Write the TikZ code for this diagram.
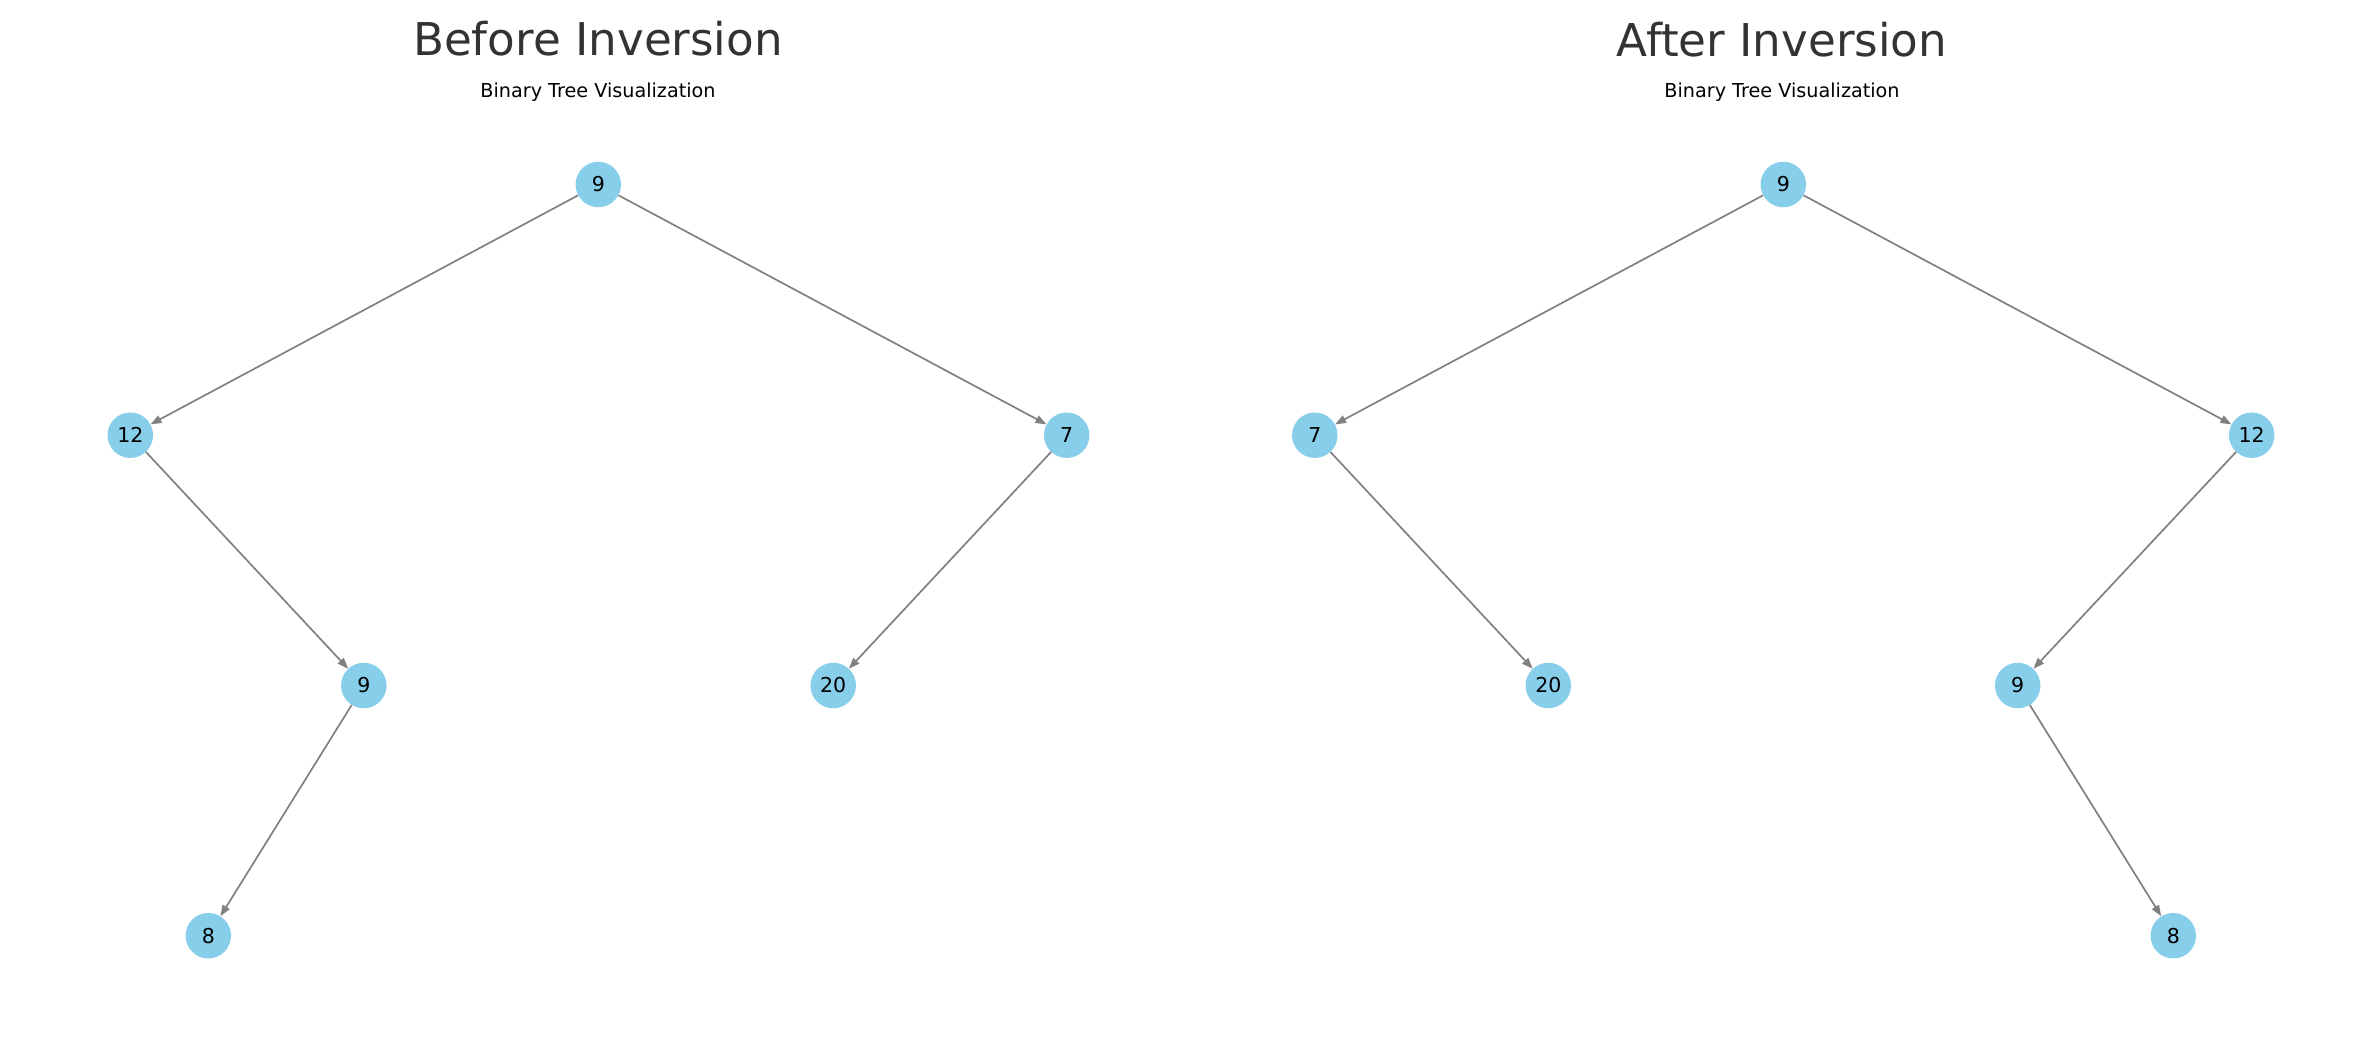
\documentclass[tikz,border=0pt]{standalone}
\usepackage{fontspec}
\setmainfont{DejaVu Sans}
\usetikzlibrary{arrows.meta}
\definecolor{skyblue}{RGB}{135,206,235}
\definecolor{edgegray}{RGB}{128,128,128}
\definecolor{titlegray}{RGB}{51,51,51}
\tikzset{
  treenode/.style={circle, fill=skyblue, draw=none, minimum size=45.5pt, inner sep=0pt,
    font=\fontsize{20.5}{24}\selectfont, text=black},
  treeedge/.style={draw=edgegray, line width=1.7pt, -{Triangle[length=11pt,width=8pt]}},
  titletext/.style={anchor=base, font=\fontsize{45.2}{55}\selectfont, text=titlegray, inner sep=0pt},
  subtext/.style={anchor=base, font=\fontsize{19.2}{23}\selectfont, text=black, inner sep=0pt}
}
\begin{document}
\begin{tikzpicture}[x=1pt,y=-1pt]
\useasboundingbox (0,0) rectangle (2379,1045);
% titles
\node[titletext] (t1) at (598,55) {Before Inversion};
\node[subtext] (s1) at (598,97) {Binary Tree Visualization};
\node[titletext] (t2) at (1782,56) {After Inversion};
\node[subtext] (s2) at (1782,97) {Binary Tree Visualization};
% left tree
\node[treenode] (a9) at (598.3,184.5) {9};
\node[treenode] (a12) at (130.3,435.2) {12};
\node[treenode] (a7) at (1066.7,435.2) {7};
\node[treenode] (a9b) at (363.8,685.5) {9};
\node[treenode] (a20) at (833.2,685.5) {20};
\node[treenode] (a8) at (208.3,935.7) {8};
\draw[treeedge] (a9) -- (a12);
\draw[treeedge] (a9) -- (a7);
\draw[treeedge] (a12) -- (a9b);
\draw[treeedge] (a7) -- (a20);
\draw[treeedge] (a9b) -- (a8);
% right tree
\node[treenode] (b9) at (1783.3,184.5) {9};
\node[treenode] (b7) at (1314.8,435.2) {7};
\node[treenode] (b12) at (2251.7,435.2) {12};
\node[treenode] (b20) at (1548.3,685.5) {20};
\node[treenode] (b9b) at (2017.7,685.5) {9};
\node[treenode] (b8) at (2173.3,935.7) {8};
\draw[treeedge] (b9) -- (b7);
\draw[treeedge] (b9) -- (b12);
\draw[treeedge] (b7) -- (b20);
\draw[treeedge] (b12) -- (b9b);
\draw[treeedge] (b9b) -- (b8);
\end{tikzpicture}
\end{document}
